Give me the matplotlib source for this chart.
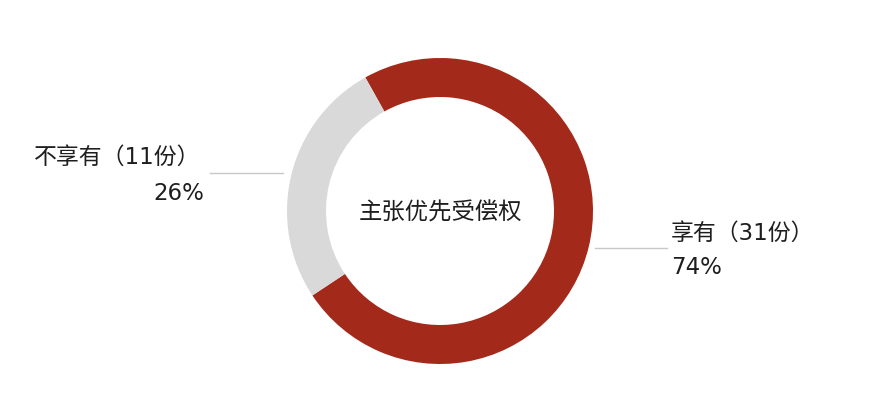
import matplotlib
matplotlib.use("Agg")
import matplotlib.pyplot as plt

plt.rcParams["font.family"] = ["Noto Sans CJK SC", "DejaVu Sans"]
label_family = ["DejaVu Sans", "Noto Sans CJK SC"]

# data
categories = ["享有", "不享有"]
counts = [31, 11]
colors = ["#A3291A", "#D9D9D9"]
center_title = "主张优先受偿权"

W, H = 889, 418
fig = plt.figure(figsize=(W / 100, H / 100), dpi=100)
ax = fig.add_axes([0, 0, 1, 1])

cx, cy = 440, H - 211
ax.pie(counts, colors=colors, startangle=213.5, counterclock=True,
       radius=153, center=(cx, cy),
       wedgeprops=dict(width=39, linewidth=0), frame=True)
ax.set_xlim(0, W)
ax.set_ylim(0, H)
ax.axis("off")

ax.text(cx + 1, cy - 2, center_title, ha="center", va="center",
        fontsize=16.8, color="#1E1E1E")

total = sum(counts)
pct = [round(c / total * 100) for c in counts]

# leader lines
ax.plot([595, 667], [H - 248, H - 248], color="#C8C8C8", lw=1)
ax.plot([210, 283], [H - 173, H - 173], color="#C8C8C8", lw=1)

fs = 16.5
# right label (享有)
ax.text(671, H - 233, f"{categories[0]}（{counts[0]}份）", ha="left", va="center",
        fontsize=fs, color="#1E1E1E", family=label_family)
ax.text(671, H - 268, f"{pct[0]}%", ha="left", va="center",
        fontsize=fs, color="#1E1E1E", family=label_family)

# left label (不享有)
ax.text(34, H - 157, f"{categories[1]}（{counts[1]}份）", ha="left", va="center",
        fontsize=fs, color="#1E1E1E", family=label_family)
ax.text(204, H - 193, f"{pct[1]}%", ha="right", va="center",
        fontsize=fs, color="#1E1E1E", family=label_family)

fig.savefig("out.png", dpi=100, facecolor="white")
